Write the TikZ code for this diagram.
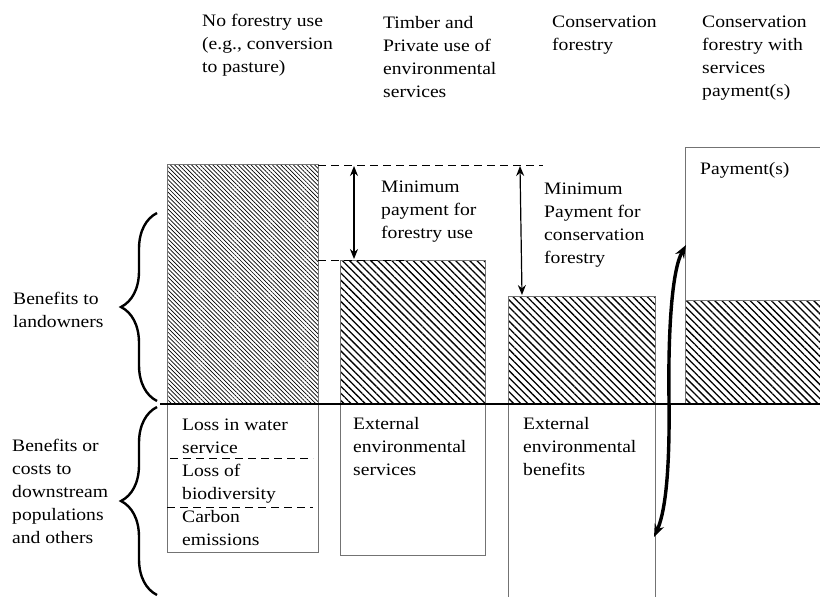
\documentclass[tikz,border=0pt]{standalone}
\usepackage{fontspec}
\setmainfont[FakeStretch=1.12]{Liberation Serif}
\usetikzlibrary{patterns.meta,arrows.meta,decorations.pathreplacing}

\begin{document}
\begin{tikzpicture}[x=1pt, y=-1pt,
    every node/.style = {anchor=north west, inner sep=0pt, align=left,
      font=\fontsize{17.5}{23}\selectfont},
    box/.style = {draw=black!55, line width=0.8pt},
    fine hatch/.style = {pattern={Lines[angle=-45, distance=3pt, line width=0.7pt]}},
    wide hatch/.style = {pattern={Lines[angle=-45, distance=5pt, line width=1.3pt]}},
    level/.style = {dash pattern=on 8pt off 5pt, line width=1pt},
    gap/.style = {{Stealth[length=10pt,width=8pt]}-{Stealth[length=10pt,width=8pt]}, line width=1.2pt},
    swing/.style = {{Stealth[length=13pt,width=10pt]}-{Stealth[length=13pt,width=10pt]}, line width=3.4pt},
    curly/.style = {decorate, decoration={brace, amplitude=36pt}, line width=2.4pt}]
  \useasboundingbox (0,0) rectangle (820,597);

  % column heads
  \node (nouse) at (202,14) {No forestry use\\(e.g., conversion\\to pasture)};
  \node (timber) at (383,16) {Timber and\\Private use of\\environmental\\services};
  \node (conserv) at (552,16) {Conservation\\forestry};
  \node (withpay) at (702,16) {Conservation\\forestry with\\services\\payment(s)};

  % landowner bars
  \fill[fine hatch] (167,164) rectangle (318,404);
  \draw[box] (167,164) rectangle (318,404);
  \fill[wide hatch] (340,260) rectangle (485,404);
  \draw[box] (340,260) rectangle (485,404);
  \fill[wide hatch] (508,296) rectangle (655,404);
  \draw[box] (508,296) rectangle (655,404);
  \fill[wide hatch] (685,300) rectangle (820,404);
  \draw[box] (820,147) -- (685,147) -- (685,404);
  \draw[box] (685,300) -- (820,300);

  % downstream boxes
  \draw[box] (167,404) rectangle (318,552);
  \draw[box] (340,404) rectangle (485,555);
  \draw[box] (508,404) -- (508,597);
  \draw[box] (655,404) -- (655,597);
  \draw[line width=1.3pt] (160,404) -- (820,404);
  \draw[level] (170,458) -- (313,458);
  \draw[level] (167,507) -- (313,507);

  % levels and gaps
  \coordinate (top1) at (318,165);
  \coordinate (top2) at (340,260);
  \coordinate (top3) at (508,296);
  \draw[level] (top1) -- (543,165);
  \draw[level] (318,260) -- (408,260);
  \draw[gap] (354,166) -- (354,259);
  \draw[gap] (520,166) -- (522,295);

  \node (minfor) at (381,181) {Minimum\\payment for\\forestry use};
  \node (mincons) at (544,183) {Minimum\\Payment for\\conservation\\forestry};
  \node (payments) at (700,162) {Payment(s)};

  % transfer
  \coordinate (paytop) at (686,245);
  \coordinate (paybot) at (654,537);
  \draw[swing] (paybot) .. controls (664,515) and (670,480) .. (669,400)
    .. controls (668,330) and (672,270) .. (paytop);

  % braces
  \draw[curly] (157,401) -- (157,213);
  \draw[curly] (157,595) -- (157,407);
  \node (landown) at (13,292) {Benefits to\\landowners};
  \node (downstr) at (12,439) {Benefits or\\costs to\\downstream\\populations\\and others};

  \node (losses) at (182,419) {Loss in water\\service\\Loss of\\biodiversity\\Carbon\\emissions};
  \node (extserv) at (353,417) {External\\environmental\\services};
  \node (extben) at (523,417) {External\\environmental\\benefits};
\end{tikzpicture}
\end{document}
